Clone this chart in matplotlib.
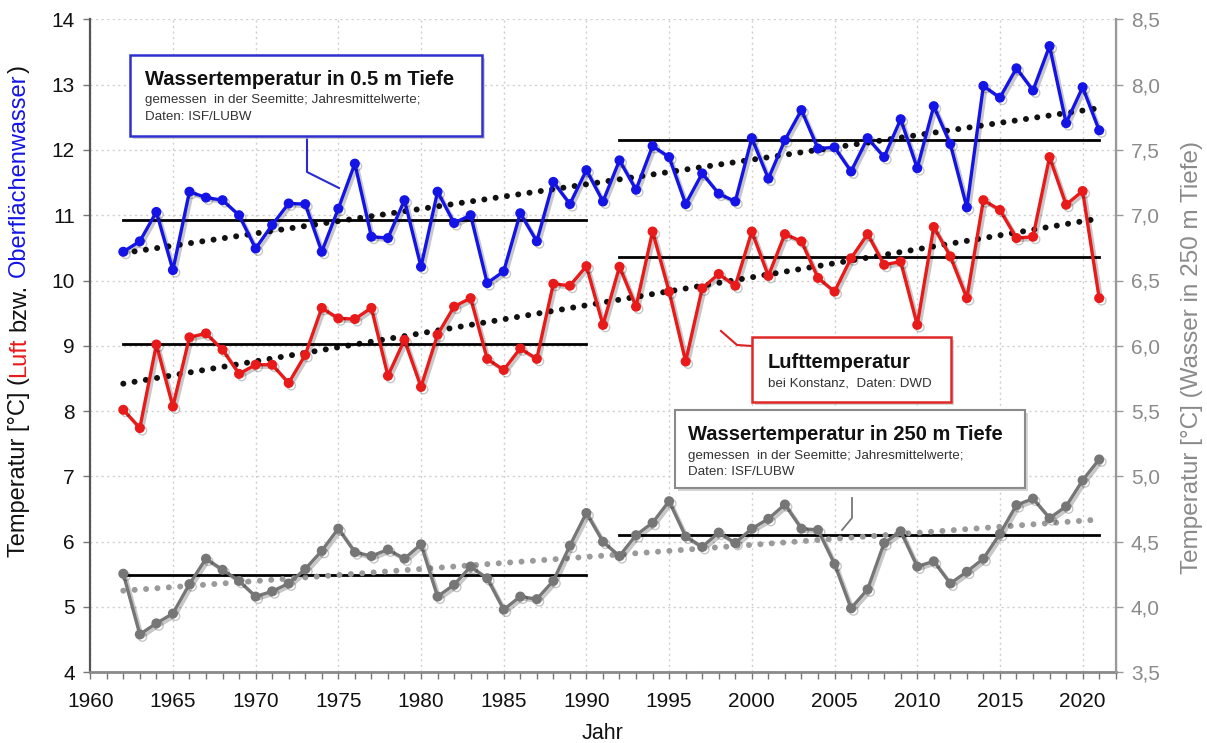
import matplotlib
matplotlib.use("Agg")
import matplotlib.pyplot as plt
import matplotlib.patheffects as pe
from matplotlib.patches import Rectangle
from matplotlib.lines import Line2D
from matplotlib.ticker import MultipleLocator, FuncFormatter

plt.rcParams['font.family'] = ['Liberation Sans', 'DejaVu Sans']

# ---------------- data ----------------
years = list(range(1962, 2022))

water_05m = [10.44, 10.60, 11.05, 10.16, 11.36, 11.27, 11.23, 11.00, 10.49, 10.85,
             11.18, 11.17, 10.44, 11.10, 11.79, 10.67, 10.65, 11.23, 10.21, 11.36,
             10.88, 11.00, 9.96, 10.14, 11.03, 10.60, 11.51, 11.17, 11.69, 11.21,
             11.84, 11.39, 12.06, 11.89, 11.17, 11.64, 11.33, 11.21, 12.18, 11.56,
             12.15, 12.61, 12.02, 12.04, 11.67, 12.18, 11.89, 12.47, 11.72, 12.67,
             12.09, 11.12, 12.98, 12.80, 13.25, 12.91, 13.59, 12.41, 12.96, 12.30]

air = [8.02, 7.74, 9.02, 8.07, 9.13, 9.19, 8.94, 8.57, 8.71, 8.71,
       8.43, 8.86, 9.58, 9.42, 9.41, 9.58, 8.54, 9.09, 8.37, 9.17,
       9.60, 9.73, 8.80, 8.63, 8.96, 8.80, 9.95, 9.92, 10.22, 9.32,
       10.21, 9.60, 10.75, 9.83, 8.76, 9.88, 10.10, 9.92, 10.75, 10.07,
       10.71, 10.60, 10.04, 9.83, 10.34, 10.71, 10.24, 10.29, 9.32, 10.82,
       10.37, 9.73, 11.23, 11.08, 10.65, 10.67, 11.89, 11.16, 11.37, 9.73]

water_250m = [4.255, 3.79, 3.875, 3.95, 4.175, 4.37, 4.285, 4.20, 4.08, 4.12,
              4.18, 4.29, 4.43, 4.60, 4.42, 4.39, 4.44, 4.37, 4.48, 4.08,
              4.17, 4.31, 4.22, 3.98, 4.08, 4.06, 4.20, 4.47, 4.72, 4.50,
              4.39, 4.55, 4.645, 4.81, 4.54, 4.46, 4.57, 4.49, 4.60, 4.675,
              4.785, 4.60, 4.59, 4.33, 3.99, 4.135, 4.49, 4.58, 4.31, 4.35,
              4.18, 4.27, 4.37, 4.56, 4.78, 4.83, 4.68, 4.77, 4.97, 5.13]

# period means (1962-1990, 1992-2021)
periods = [(1962, 1990), (1992, 2021)]
mean_05m = [10.92, 12.15]
mean_air = [9.02, 10.36]
mean_250m = [4.245, 4.55]

# linear trends (start 1962, end 2021)
trend_years = [1962, 2021]
trend_05m = [10.42, 12.64]
trend_air = [8.42, 10.95]
trend_250m = [4.125, 4.67]

left_ticks = list(range(4, 15))
right_ticks = [3.5, 4.0, 4.5, 5.0, 5.5, 6.0, 6.5, 7.0, 7.5, 8.0, 8.5]
x_ticks = list(range(1960, 2021, 5))

# ---------------- figure ----------------
W, H = 1207, 743
fig = plt.figure(figsize=(W / 100, H / 100), dpi=100)
ax = fig.add_axes([90.2 / W, 1 - 672.3 / H, (1115.7 - 90.2) / W, (672.3 - 19.3) / H])
ax2 = ax.twinx()

BLUE = '#1414e6'
RED = '#e81a1a'
GREY = '#767676'
GREY_TR = '#9a9a9a'

shadow = [pe.SimpleLineShadow(offset=(1.8, -1.8), shadow_color='k', alpha=0.22), pe.Normal()]

ax.set_xlim(1960, 2022)
ax.set_ylim(4, 14)
ax2.set_ylim(3.5, 8.5)

ax.grid(True, which='major', color='#cfcfcf', linestyle=(0, (1.5, 2.5)), lw=1.0)
ax.set_axisbelow(True)

dot_style = dict(linestyle=(0, (0.01, 1.9)), dash_capstyle='round', lw=4.3)

# trends
ax.plot(trend_years, trend_05m, color='#111111', zorder=2, **dot_style)
ax.plot(trend_years, trend_air, color='#111111', zorder=2, **dot_style)
ax2.plot(trend_years, trend_250m, color=GREY_TR, zorder=2, **dot_style)

# period means
for (a, b), m in zip(periods, mean_05m):
    ax.plot([a, b], [m, m], color='k', lw=2.0, zorder=3)
for (a, b), m in zip(periods, mean_air):
    ax.plot([a, b], [m, m], color='k', lw=2.0, zorder=3)
for (a, b), m in zip(periods, mean_250m):
    ax2.plot([a, b], [m, m], color='k', lw=2.0, zorder=1)

# series
ax.plot(years, water_05m, color=BLUE, lw=2.4, marker='o', ms=6.2, zorder=4, path_effects=shadow)
ax.plot(years, air, color=RED, lw=2.4, marker='o', ms=6.2, zorder=4, path_effects=shadow)
ax2.plot(years, water_250m, color=GREY, lw=2.4, marker='o', ms=6.2, zorder=3, path_effects=shadow)

# ticks
ax.set_xticks(x_ticks)
ax.xaxis.set_minor_locator(MultipleLocator(1))
ax.set_yticks(left_ticks)
ax2.set_yticks(right_ticks)
ax2.yaxis.set_major_formatter(FuncFormatter(lambda v, p: f"{v:.1f}".replace('.', ',')))

ax.tick_params(axis='x', which='both', direction='out', length=5, width=1, color='#777777',
               labelsize=15, pad=9, labelcolor='#111111')
ax.tick_params(axis='y', direction='out', length=5, width=1, color='#777777',
               labelsize=15, pad=6, labelcolor='#111111')
ax2.tick_params(axis='y', direction='out', length=5, width=1, color='#999999',
                labelsize=15, pad=6, labelcolor='#8a8a8a')

for a in (ax, ax2):
    a.spines['top'].set_visible(False)
ax.spines['left'].set_color('#555555')
ax.spines['left'].set_linewidth(1.6)
ax.spines['bottom'].set_color('#8a8a8a')
ax.spines['bottom'].set_linewidth(2.0)
ax2.spines['right'].set_color('#9a9a9a')
ax2.spines['right'].set_linewidth(1.6)
ax2.spines['left'].set_visible(False)
ax2.spines['bottom'].set_visible(False)

ax.set_xlabel('Jahr', fontsize=15.5, color='#111111', labelpad=9)

# ---------------- labels ----------------
fig.canvas.draw()
renderer = fig.canvas.get_renderer()


def text_w(s, **kw):
    t = fig.text(0, 0, s, **kw)
    w = t.get_window_extent(renderer).width
    t.remove()
    return w


lab_kw = dict(fontsize=17)
full = 'Temperatur [°C] (Luft bzw. Oberflächenwasser)'
pieces = [('Temperatur [°C] (', '#111111'), ('Luft', RED), ('bzw.', '#111111'),
          ('Oberflächenwasser', BLUE), (')', '#111111')]
total = text_w(full, **lab_kw)
ref = text_w('l', **lab_kw)
center_y = H - 311
start = center_y - total / 2
pos = 0
for s, c in pieces:
    idx = full.index(s, pos)
    off = text_w(full[:idx] + 'l', **lab_kw) - ref if idx > 0 else 0
    pos = idx + len(s)
    fig.text(19 / W, (start + off) / H, s, color=c, rotation=90, ha='center', va='bottom', **lab_kw)

fig.text(1192 / W, 1 - 358 / H, 'Temperatur [°C] (Wasser in 250 m Tiefe)', color='#8a8a8a',
         rotation=90, ha='center', va='center', fontsize=17.5)

# ---------------- annotation boxes ----------------


def fig_box(x0, y0, x1, y1, ec, lw):
    sh = Rectangle(((x0 + 3) / W, 1 - (y1 + 3) / H), (x1 - x0) / W, (y1 - y0) / H,
                   transform=fig.transFigure, facecolor='#c4c4c4', edgecolor='none', alpha=0.7, zorder=5)
    bx = Rectangle((x0 / W, 1 - y1 / H), (x1 - x0) / W, (y1 - y0) / H,
                   transform=fig.transFigure, facecolor='white', edgecolor=ec, lw=lw, zorder=6)
    fig.patches.extend([sh, bx])


def fig_line(pts, color, lw=1.5):
    xs = [p[0] / W for p in pts]
    ys = [1 - p[1] / H for p in pts]
    fig.lines.append(Line2D(xs, ys, transform=fig.transFigure, color=color, lw=lw, zorder=5))


def fig_txt(x, y, s, size, bold=False, color='#111111'):
    fig.text(x / W, 1 - y / H, s, fontsize=size, fontweight='bold' if bold else 'normal',
             color=color, ha='left', va='baseline', zorder=7)


TITLE = 14.5
SUB = 9.6

# blue box
fig_line([(307, 136), (307, 172), (339, 188)], '#2a2ad0', 1.5)
fig_box(130, 55, 482, 136, '#3030d0', 1.8)
fig_txt(145, 85, 'Wassertemperatur in 0.5 m Tiefe', TITLE, True)
fig_txt(145, 103, 'gemessen  in der Seemitte; Jahresmittelwerte;', SUB, False, '#333333')
fig_txt(145, 120, 'Daten: ISF/LUBW', SUB, False, '#333333')

# red box
fig_line([(721, 331), (737, 345), (752, 346)], '#e02020', 1.5)
fig_box(752, 337, 951, 402, '#e02828', 1.8)
fig_txt(768, 368, 'Lufttemperatur', TITLE, True)
fig_txt(768, 387, 'bei Konstanz,  Daten: DWD', SUB, False, '#333333')

# grey box
fig_line([(852, 498), (852, 518), (842, 530)], '#777777', 1.3)
fig_box(675, 410, 1025, 488, '#8a8a8a', 1.5)
fig_txt(688, 440, 'Wassertemperatur in 250 m Tiefe', TITLE, True)
fig_txt(688, 459, 'gemessen  in der Seemitte; Jahresmittelwerte;', SUB, False, '#333333')
fig_txt(688, 475, 'Daten: ISF/LUBW', SUB, False, '#333333')

fig.savefig('out.png', dpi=100)
